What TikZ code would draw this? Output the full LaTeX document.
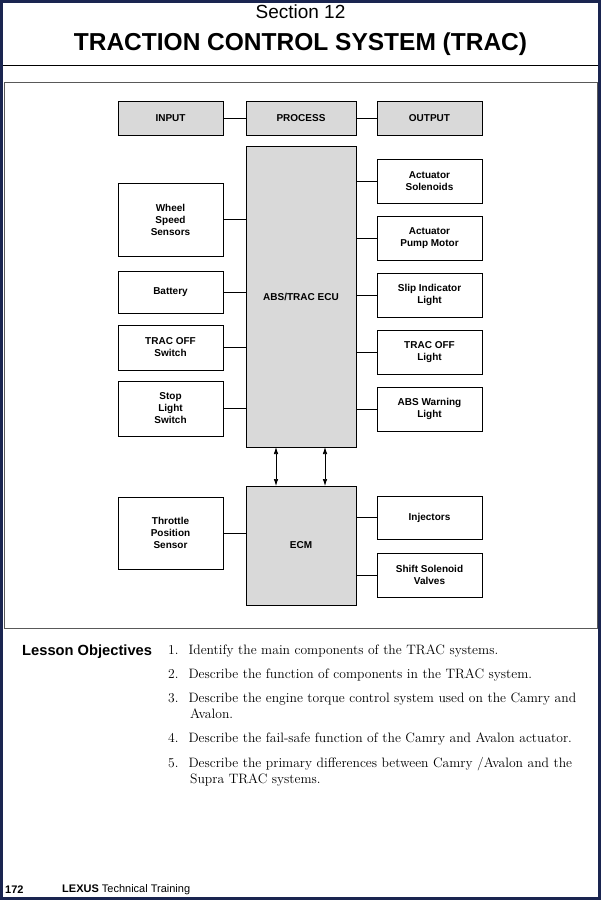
\documentclass[tikz,border=0pt]{standalone}
\usepackage{fontspec}
\setsansfont{Liberation Sans}
\usetikzlibrary{arrows.meta}
\definecolor{navy}{HTML}{1A2550}
\definecolor{boxgray}{HTML}{D9D9D9}
\begin{document}
\begin{tikzpicture}[x=1pt,y=-1pt,
  bx/.style={draw=black,line width=0.7pt,align=center,font=\sffamily\bfseries\fontsize{10}{12}\selectfont,inner sep=0pt},
  gb/.style={bx,fill=boxgray},
  ln/.style={line width=0.7pt},
  obj/.style={anchor=north west,align=left,text width=430pt,font=\fontsize{13.6}{16}\selectfont,inner sep=0pt}]
\fill[white] (0,0) rectangle (601,900);
\draw[navy,line width=3pt] (1.5,1.5) rectangle (599.5,898.5);
\node[font=\sffamily\fontsize{19}{22}\selectfont] (sec) at (300.5,12) {Section 12};
\node[font=\sffamily\bfseries\fontsize{24.5}{28}\selectfont] (title) at (300.5,44) {TRACTION CONTROL SYSTEM (TRAC)};
\draw[line width=0.8pt] (3,65) -- (598,65);
\draw[gray!70!black,line width=0.8pt] (4,82) rectangle (597,628);
% header boxes
\node[gb,minimum width=105pt,minimum height=34pt] (in) at (170.5,118) {INPUT};
\node[gb,minimum width=110pt,minimum height=34pt] (pr) at (301,118) {PROCESS};
\node[gb,minimum width=105pt,minimum height=34pt] (out) at (429.5,118) {OUTPUT};
\draw[ln] (in) -- (pr); \draw[ln] (pr) -- (out);
% ECU
\node[gb,minimum width=110pt,minimum height=301pt] (ecu) at (301,296.5) {ABS/TRAC ECU};
\node[gb,minimum width=110pt,minimum height=119pt] (ecm) at (301,545.5) {ECM};
% left inputs
\node[bx,minimum width=105pt,minimum height=73pt] (wss) at (170.5,219.5) {Wheel\\Speed\\Sensors};
\node[bx,minimum width=105pt,minimum height=42pt] (bat) at (170.5,292) {Battery};
\node[bx,minimum width=105pt,minimum height=45pt] (tos) at (170.5,347.5) {TRAC OFF\\Switch};
\node[bx,minimum width=105pt,minimum height=55pt] (sls) at (170.5,408.5) {Stop\\Light\\Switch};
\node[bx,minimum width=105pt,minimum height=72pt] (tps) at (170.5,533) {Throttle\\Position\\Sensor};
% right outputs
\node[bx,minimum width=105pt,minimum height=44pt] (as) at (429.5,181) {Actuator\\Solenoids};
\node[bx,minimum width=105pt,minimum height=44pt] (apm) at (429.5,238) {Actuator\\Pump Motor};
\node[bx,minimum width=105pt,minimum height=44pt] (sil) at (429.5,295) {Slip Indicator\\Light};
\node[bx,minimum width=105pt,minimum height=44pt] (tol) at (429.5,352) {TRAC OFF\\Light};
\node[bx,minimum width=105pt,minimum height=44pt] (awl) at (429.5,409) {ABS Warning\\Light};
\node[bx,minimum width=105pt,minimum height=43pt] (inj) at (429.5,517.5) {Injectors};
\node[bx,minimum width=105pt,minimum height=44pt] (ssv) at (429.5,575) {Shift Solenoid\\Valves};
\foreach \n in {wss,bat,tos,sls} \draw[ln] (\n.east) -- (\n.east -| ecu.west);
\draw[ln] (tps.east) -- (tps.east -| ecm.west);
\foreach \n in {as,apm,sil,tol,awl} \draw[ln] (\n.west) -- (\n.west -| ecu.east);
\foreach \n in {inj,ssv} \draw[ln] (\n.west) -- (\n.west -| ecm.east);
\coordinate (a1t) at (276,447); \coordinate (a1b) at (276,486);
\coordinate (a2t) at (325,447); \coordinate (a2b) at (325,486);
\draw[ln,{Latex[length=7pt,width=4.5pt]}-{Latex[length=7pt,width=4.5pt]}] (a1t) -- (a1b);
\draw[ln,{Latex[length=7pt,width=4.5pt]}-{Latex[length=7pt,width=4.5pt]}] (a2t) -- (a2b);
% lesson objectives
\node[anchor=north west,inner sep=0pt,font=\sffamily\bfseries\fontsize{14.7}{17}\selectfont] (lo) at (22,645) {Lesson Objectives};
\node[obj] (o1) at (168,645) {1.\hspace{10pt}Identify the main components of the TRAC systems.};
\node[obj] (o2) at (168,669) {2.\hspace{10pt}Describe the function of components in the TRAC system.};
\node[obj] (o3) at (168,693) {3.\hspace{10pt}Describe the engine torque control system used on the Camry and\\\hspace{22pt}Avalon.};
\node[obj] (o4) at (168,733) {4.\hspace{10pt}Describe the fail-safe function of the Camry and Avalon actuator.};
\node[obj] (o5) at (168,757) {5.\hspace{10pt}Describe the primary differences between Camry /Avalon and the\\\hspace{22pt}Supra TRAC systems.};
% footer
\node[anchor=west,inner sep=0pt,font=\sffamily\bfseries\fontsize{11}{12}\selectfont] (pg) at (5,890) {172};
\node[anchor=west,inner sep=0pt,font=\sffamily\fontsize{11}{12}\selectfont] (ft) at (62,890) {\textbf{LEXUS} Technical Training};
\end{tikzpicture}
\end{document}
